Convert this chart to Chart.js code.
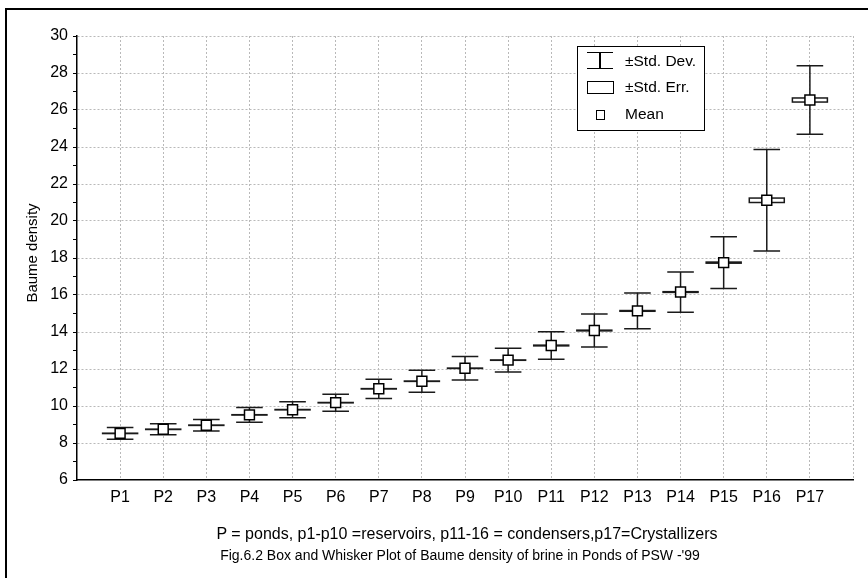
<!DOCTYPE html>
<html>
<head>
<meta charset="utf-8">
<script src="https://cdn.jsdelivr.net/npm/chart.js@4.4.0/dist/chart.umd.min.js"></script>
<style>
  html, body { margin: 0; padding: 0; background: #fff; }
  body { width: 868px; height: 578px; position: relative; overflow: hidden; font-family: "Liberation Sans", Arial, sans-serif; color: #000; }
  #chart { position: absolute; left: 0; top: 0; }
  #frame { position: absolute; left: 5px; top: 8px; width: 900px; height: 600px; border-left: 2.5px solid #000; border-top: 2.5px solid #000; }
  .txt { position: absolute; white-space: nowrap; line-height: 20px; }
  .center { width: 700px; text-align: center; }
  #ytitle { left: 32px; top: 252.5px; font-size: 15px; line-height: 18px; transform: translate(-50%, -50%) rotate(-90deg); }
  #legend { position: absolute; left: 576.5px; top: 46px; width: 126px; height: 83px; border: 1.5px solid #000; background: #fff; }
  .lg { position: absolute; left: 625px; font-size: 15.5px; line-height: 18px; }
  .sdsym { position: absolute; left: 587px; top: 52px; width: 26px; height: 15px; border-top: 1.5px solid #000; border-bottom: 1.5px solid #000; }
  .sdbar { position: absolute; left: 599.3px; top: 53px; width: 1.5px; height: 16px; background: #000; }
  .sesym { position: absolute; left: 587px; top: 80.5px; width: 25px; height: 11.5px; border: 1.5px solid #000; }
  .mnsym { position: absolute; left: 596px; top: 110px; width: 6.5px; height: 7.5px; border: 1.5px solid #000; }
</style>
</head>
<body>
<canvas id="chart" width="868" height="578"></canvas>
<div id="frame"></div>
<div class="txt" id="ytitle">Baume density</div>
<div class="txt center" style="left:117px; top:524px; font-size:16px;">P = ponds, p1-p10 =reservoirs, p11-16 = condensers,p17=Crystallizers</div>
<div class="txt center" style="left:110px; top:545px; font-size:14px;">Fig.6.2 Box and Whisker Plot of Baume density of brine in Ponds of PSW -'99</div>
<div id="legend"></div>
<div class="sdsym"></div><div class="sdbar"></div>
<div class="txt lg" style="top:52px;">±Std. Dev.</div>
<div class="sesym"></div>
<div class="txt lg" style="top:78px;">±Std. Err.</div>
<div class="mnsym"></div>
<div class="txt lg" style="top:105px;">Mean</div>
<script>
// ponds
const ponds = ['P1', 'P2', 'P3', 'P4', 'P5', 'P6', 'P7', 'P8', 'P9', 'P10', 'P11', 'P12', 'P13', 'P14', 'P15', 'P16', 'P17'];
const pondPos = [1, 2, 3, 4, 5, 6, 7, 8, 9, 10, 11, 12, 13, 14, 15, 16, 17];

// Baume density: mean, std. dev., std. err.
const means = [8.52, 8.74, 8.96, 9.52, 9.80, 10.18, 10.93, 11.34, 12.04, 12.48, 13.27, 14.08, 15.14, 16.16, 17.75, 21.12, 26.54];
const stdDev = [0.32, 0.30, 0.31, 0.40, 0.43, 0.46, 0.52, 0.59, 0.64, 0.64, 0.74, 0.89, 0.97, 1.09, 1.40, 2.74, 1.85];
const stdErr = [0.01, 0.01, 0.01, 0.01, 0.01, 0.01, 0.01, 0.01, 0.01, 0.01, 0.02, 0.02, 0.02, 0.02, 0.03, 0.12, 0.11];

// axis ticks
const xTicks = [0, 1, 2, 3, 4, 5, 6, 7, 8, 9, 10, 11, 12, 13, 14, 15, 16, 17, 18];
const yTicks = [6, 7, 8, 9, 10, 11, 12, 13, 14, 15, 16, 17, 18, 19, 20, 21, 22, 23, 24, 25, 26, 27, 28, 29, 30];

Chart.defaults.font.family = '"Liberation Sans", Arial, sans-serif';
Chart.defaults.color = '#000';

const gridGray = '#b9b9b9';
const capHalf = 13.3;
const boxHalf = 17.5;

// whiskers (std. dev.) and flat boxes (std. err.)
const whiskerPlugin = {
  id: 'whiskers',
  beforeDatasetsDraw(chart) {
    const { ctx, scales: { x, y } } = chart;
    ctx.save();
    ctx.strokeStyle = '#1a1a1a';
    ctx.lineWidth = 1.5;
    ctx.fillStyle = '#fff';
    means.forEach((m, i) => {
      const px = x.getPixelForValue(pondPos[i]);
      const top = y.getPixelForValue(m + stdDev[i]);
      const bot = y.getPixelForValue(m - stdDev[i]);
      ctx.beginPath();
      ctx.moveTo(px, top); ctx.lineTo(px, bot);
      ctx.moveTo(px - capHalf, top); ctx.lineTo(px + capHalf, top);
      ctx.moveTo(px - capHalf, bot); ctx.lineTo(px + capHalf, bot);
      ctx.stroke();
      const seTop = y.getPixelForValue(m + stdErr[i]);
      const seBot = y.getPixelForValue(m - stdErr[i]);
      ctx.fillRect(px - boxHalf, seTop, boxHalf * 2, seBot - seTop);
      ctx.strokeRect(px - boxHalf, seTop, boxHalf * 2, seBot - seTop);
    });
    ctx.restore();
  }
};

new Chart(document.getElementById('chart'), {
  type: 'scatter',
  data: {
    datasets: [{
      label: 'Mean',
      data: means.map((m, i) => ({ x: pondPos[i], y: m })),
      pointStyle: 'rect',
      pointRadius: 7,
      backgroundColor: '#fff',
      borderColor: '#000',
      borderWidth: 1.5,
      showLine: false
    }]
  },
  options: {
    responsive: false,
    animation: false,
    events: [],
    layout: { padding: { top: 36, right: 15, bottom: 0, left: 0 } },
    plugins: { legend: { display: false }, tooltip: { enabled: false } },
    scales: {
      x: {
        type: 'linear',
        min: 0,
        max: 18,
        afterBuildTicks: s => { s.ticks = xTicks.map(v => ({ value: v })); },
        afterFit: s => { s.height = 98; },
        ticks: {
          autoSkip: false,
          maxRotation: 0,
          padding: 8,
          font: { size: 16 },
          callback: v => (v >= 1 && v <= 17) ? ponds[v - 1] : ''
        },
        grid: {
          color: c => (c.tick && c.tick.value > 0) ? gridGray : 'rgba(0,0,0,0)',
          drawTicks: false,
          lineWidth: 1
        },
        border: { display: true, color: '#000', width: 1.5, dash: [2, 2] }
      },
      y: {
        min: 6,
        max: 30,
        afterBuildTicks: s => { s.ticks = yTicks.map(v => ({ value: v })); },
        afterFit: s => { s.width = 77; },
        ticks: {
          autoSkip: false,
          padding: 5,
          font: { size: 16 },
          callback: v => v % 2 === 0 ? String(v) : ''
        },
        grid: {
          color: c => (c.tick && c.tick.value % 2 === 0 && c.tick.value > 6) ? gridGray : 'rgba(0,0,0,0)',
          tickColor: '#000',
          tickLength: 4,
          lineWidth: 1
        },
        border: { display: true, color: '#000', width: 1.5, dash: [2, 2] }
      }
    }
  },
  plugins: [whiskerPlugin]
});
</script>
</body>
</html>
